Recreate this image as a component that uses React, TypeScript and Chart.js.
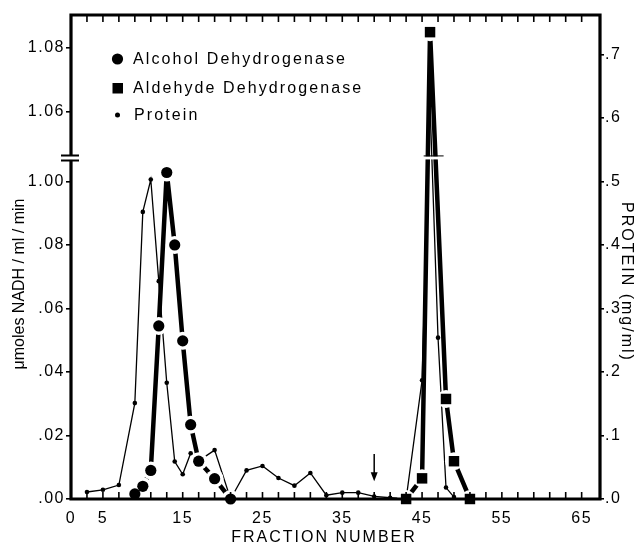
import React, { useEffect, useRef } from "react";
import { Chart, registerables } from "chart.js";

Chart.register(...registerables);

// ---------------- data ----------------
const alcoholFractions = [9, 10, 11, 12, 13, 14, 15, 16, 17, 19, 21];
const alcoholActivity = [0.0016, 0.004, 0.009, 0.0545, 0.1028, 0.08, 0.0498, 0.0234, 0.0119, 0.0064, 0.0];

const aldehydeFractions = [43, 45, 46, 48, 49, 51];
const aldehydeActivity = [0.0, 0.0065, 1.085, 0.0315, 0.0119, 0.0];

const proteinFractions = [3, 5, 7, 9, 10, 11, 12, 13, 14, 15, 16, 17, 19, 21, 23, 25, 27, 29, 31, 33, 35, 37, 39, 41, 43, 45, 46, 47, 48, 49];
const proteinConc = [0.011, 0.0145, 0.022, 0.151, 0.452, 0.503, 0.343, 0.183, 0.059, 0.039, 0.072, 0.06, 0.077, 0.0, 0.045, 0.052, 0.033, 0.021, 0.041, 0.006, 0.01, 0.01, 0.004, 0.002, 0.0, 0.187, 0.62, 0.254, 0.018, 0.003];

const xTickValues = [1, 5, 15, 25, 35, 45, 55, 65];
const xTickLabels = ["0", "5", "15", "25", "35", "45", "55", "65"];
const minorTickFractions = [3, 5, 7, 9, 11, 13, 15, 17, 19, 21, 23, 25, 27, 29, 31, 33, 35, 37, 39, 41, 43, 45, 47, 49, 51, 53, 55, 57, 59, 61, 63, 65, 67];

const leftTickValues = [0, 0.02, 0.04, 0.06, 0.08, 0.1, 1.06, 1.08];
const leftTickLabels = [".00", ".02", ".04", ".06", ".08", "1.00", "1.06", "1.08"];
const rightTickValues = [0, 0.1, 0.2, 0.3, 0.4, 0.5, 0.6, 0.7];
const rightTickLabels = [".0", ".1", ".2", ".3", ".4", ".5", ".6", ".7"];

const arrowFraction = 39;
const arrowFrom = 0.071; // protein units
const arrowTo = 0.028;

const legendItems = ["Alcohol Dehydrogenase", "Aldehyde Dehydrogenase", "Protein"];
const xTitle = "FRACTION NUMBER";
const leftTitle = "\u03bcmoles NADH / ml / min";
const rightTitle = "PROTEIN (mg/ml)";

// ---------------- scale geometry ----------------
const X_MIN = 1;
const X_MAX = 67.3;
const LEFT_MAX = 0.1524;
const RIGHT_MAX = 0.762;
const BREAK_AT = 0.1074;
const UPPER_ORIGIN = 1.06;
const UPPER_OFFSET = 0.122;
const leftDisplay = (v: number) => (v > 1 ? UPPER_OFFSET + (v - UPPER_ORIGIN) : v);

const FONT = "'Liberation Sans', Arial, Helvetica, sans-serif";

const pts = (xs: number[], ys: number[], f: (v: number) => number = (v) => v) =>
  xs.map((x, i) => ({ x, y: f(ys[i]) }));

const decorPlugin = {
  id: "decor",
  beforeDraw(chart: any) {
    try { chart.ctx.letterSpacing = "1.5px"; } catch (e) {}
  },
  afterDraw(chart: any) {
    const ctx = chart.ctx as CanvasRenderingContext2D;
    const { left, right, top, bottom } = chart.chartArea;
    const xs = chart.scales.x;
    const yl = chart.scales.y;
    const yr = chart.scales.y2;
    ctx.save();
    ctx.strokeStyle = "#000";
    ctx.fillStyle = "#000";
    ctx.lineCap = "butt";

    // minor ticks (inward) top and bottom
    ctx.lineWidth = 1.6;
    minorTickFractions.forEach((f) => {
      const px = xs.getPixelForValue(f);
      if (px < left + 3 || px > right - 3) return;
      ctx.beginPath();
      ctx.moveTo(px, bottom);
      ctx.lineTo(px, bottom - 7);
      ctx.moveTo(px, top);
      ctx.lineTo(px, top + 7);
      ctx.stroke();
    });

    // frame
    ctx.lineWidth = 3.2;
    ctx.beginPath();
    ctx.rect(left, top, right - left, bottom - top);
    ctx.stroke();

    // axis break on left axis
    const yb = yl.getPixelForValue(BREAK_AT);
    ctx.fillStyle = "#fff";
    ctx.fillRect(left - 4, yb - 2, 8, 4);
    ctx.fillStyle = "#000";
    ctx.lineWidth = 2;
    ctx.beginPath();
    ctx.moveTo(left - 10, yb - 2.5);
    ctx.lineTo(left + 8, yb - 2.5);
    ctx.moveTo(left - 10, yb + 2.5);
    ctx.lineTo(left + 8, yb + 2.5);
    ctx.stroke();

    // break across the aldehyde peak
    const bx1 = xs.getPixelForValue(45.2);
    const bx2 = xs.getPixelForValue(47.7);
    ctx.fillStyle = "#fff";
    ctx.fillRect(bx1, yb - 1.5, bx2 - bx1, 3);
    ctx.fillStyle = "#000";
    ctx.lineWidth = 1;
    ctx.beginPath();
    ctx.moveTo(bx1, yb - 2);
    ctx.lineTo(bx2, yb - 2);
    ctx.stroke();

    // arrow
    const ax = xs.getPixelForValue(arrowFraction);
    const ay1 = yr.getPixelForValue(arrowFrom);
    const ay2 = yr.getPixelForValue(arrowTo);
    ctx.lineWidth = 1.5;
    ctx.beginPath();
    ctx.moveTo(ax, ay1);
    ctx.lineTo(ax, ay2 - 4);
    ctx.stroke();
    ctx.beginPath();
    ctx.moveTo(ax - 3.5, ay2 - 9);
    ctx.lineTo(ax + 3.5, ay2 - 9);
    ctx.lineTo(ax, ay2);
    ctx.closePath();
    ctx.fill();

    // legend
    ctx.font = `16px ${FONT}`;
    try { (ctx as any).letterSpacing = "2.1px"; } catch (e) {}
    ctx.textBaseline = "middle";
    ctx.textAlign = "left";
    const lx = 117.5;
    const ly = [59, 88, 115];
    ctx.beginPath();
    ctx.arc(lx, ly[0], 5.6, 0, Math.PI * 2);
    ctx.fill();
    ctx.fillRect(lx - 5, ly[1] - 5, 10.5, 10.5);
    ctx.beginPath();
    ctx.arc(lx, ly[2], 2.5, 0, Math.PI * 2);
    ctx.fill();
    ctx.fillText(legendItems[0], 133, ly[0] + 1);
    ctx.fillText(legendItems[1], 133, ly[1] + 1);
    ctx.fillText(legendItems[2], 134, ly[2] + 1);

    // axis titles
    try { (ctx as any).letterSpacing = "2px"; } catch (e) {}
    ctx.textAlign = "center";
    ctx.fillText(xTitle, 324, 538);

    try { (ctx as any).letterSpacing = "0px"; } catch (e) {}
    ctx.save();
    ctx.translate(20, 284);
    ctx.rotate(-Math.PI / 2);
    ctx.fillText(leftTitle, 0, 0);
    ctx.restore();

    try { (ctx as any).letterSpacing = "2px"; } catch (e) {}
    ctx.save();
    ctx.translate(626, 282);
    ctx.rotate(Math.PI / 2);
    ctx.fillText(rightTitle, 0, 0);
    ctx.restore();

    ctx.restore();
  },
};

export default function App() {
  const ref = useRef<HTMLCanvasElement | null>(null);

  useEffect(() => {
    if (!ref.current) return;
    const alc = pts(alcoholFractions, alcoholActivity, leftDisplay);
    const ald = pts(aldehydeFractions, aldehydeActivity, leftDisplay);
    const pro = pts(proteinFractions, proteinConc);
    const tickFont = { family: FONT, size: 16 };

    const chart = new Chart(ref.current, {
      type: "line",
      data: {
        datasets: [
          {
            label: "Protein",
            data: pro,
            yAxisID: "y2",
            borderColor: "#000",
            backgroundColor: "#000",
            borderWidth: 1.3,
            pointRadius: 2.3,
            pointBorderWidth: 0,
            pointBackgroundColor: "#000",
            order: 10,
            clip: false,
          },
          {
            label: "Alcohol line",
            data: alc,
            yAxisID: "y",
            borderColor: "#000",
            borderWidth: 4.5,
            pointRadius: 0,
            order: 8,
          },
          {
            label: "Aldehyde line",
            data: ald,
            yAxisID: "y",
            borderColor: "#000",
            borderWidth: 4.5,
            pointRadius: 0,
            order: 7,
          },
          {
            label: "Alcohol halo",
            data: alc,
            yAxisID: "y",
            showLine: false,
            pointRadius: 9,
            pointBorderWidth: 0,
            pointBackgroundColor: "#fff",
            order: 5,
            clip: false,
          },
          {
            label: "Aldehyde halo",
            data: ald,
            yAxisID: "y",
            showLine: false,
            pointRadius: 9,
            pointBorderWidth: 0,
            pointBackgroundColor: "#fff",
            order: 5,
            clip: false,
          },
          {
            label: "Alcohol Dehydrogenase",
            data: alc,
            yAxisID: "y",
            showLine: false,
            pointRadius: 5.6,
            pointBorderWidth: 0,
            pointBackgroundColor: "#000",
            order: 2,
            clip: false,
          },
          {
            label: "Aldehyde Dehydrogenase",
            data: ald,
            yAxisID: "y",
            showLine: false,
            pointStyle: "rect",
            pointRadius: 7.4,
            pointBorderWidth: 0,
            pointBackgroundColor: "#000",
            order: 1,
            clip: false,
          },
        ],
      },
      options: {
        responsive: false,
        animation: false,
        events: [],
        layout: { padding: { top: 15, left: 0, right: 0, bottom: 0 } },
        plugins: { legend: { display: false }, tooltip: { enabled: false } },
        scales: {
          x: {
            type: "linear",
            position: "bottom",
            min: X_MIN,
            max: X_MAX,
            afterBuildTicks: (s: any) => {
              s.ticks = xTickValues.map((v) => ({ value: v }));
            },
            afterFit: (s: any) => {
              s.height = 49;
            },
            ticks: {
              autoSkip: false,
              maxRotation: 0,
              color: "#000",
              font: tickFont,
              padding: 10,
              callback: (v: any) => {
                const i = xTickValues.indexOf(Number(v));
                return i >= 0 ? xTickLabels[i] : "";
              },
            },
            grid: { display: false, drawTicks: false },
            border: { display: false },
          },
          y: {
            type: "linear",
            position: "left",
            min: 0,
            max: LEFT_MAX,
            afterBuildTicks: (s: any) => {
              s.ticks = leftTickValues.map((v) => ({ value: leftDisplay(v) }));
            },
            afterFit: (s: any) => {
              s.width = 71;
            },
            ticks: {
              autoSkip: false,
              color: "#000",
              font: tickFont,
              padding: 1,
              callback: (_v: any, i: number) => leftTickLabels[i],
            },
            grid: { drawOnChartArea: false, drawTicks: true, tickLength: 5, color: "#000", lineWidth: 1.6 },
            border: { display: false },
          },
          y2: {
            type: "linear",
            position: "right",
            min: 0,
            max: RIGHT_MAX,
            afterBuildTicks: (s: any) => {
              s.ticks = rightTickValues.map((v) => ({ value: v }));
            },
            afterFit: (s: any) => {
              s.width = 36;
            },
            ticks: {
              autoSkip: false,
              color: "#000",
              font: tickFont,
              padding: 1,
              callback: (_v: any, i: number) => rightTickLabels[i],
            },
            grid: { drawOnChartArea: false, drawTicks: true, tickLength: 4, color: "#000", lineWidth: 1.6 },
            border: { display: false },
          },
        },
      },
      plugins: [decorPlugin],
    } as any);
    return () => chart.destroy();
  }, []);

  return (
    <div style={{ position: "fixed", left: 0, top: 0, width: 636, height: 548, background: "#fff" }}>
      <canvas ref={ref} width={636} height={548} style={{ width: 636, height: 548, display: "block" }} />
    </div>
  );
}
